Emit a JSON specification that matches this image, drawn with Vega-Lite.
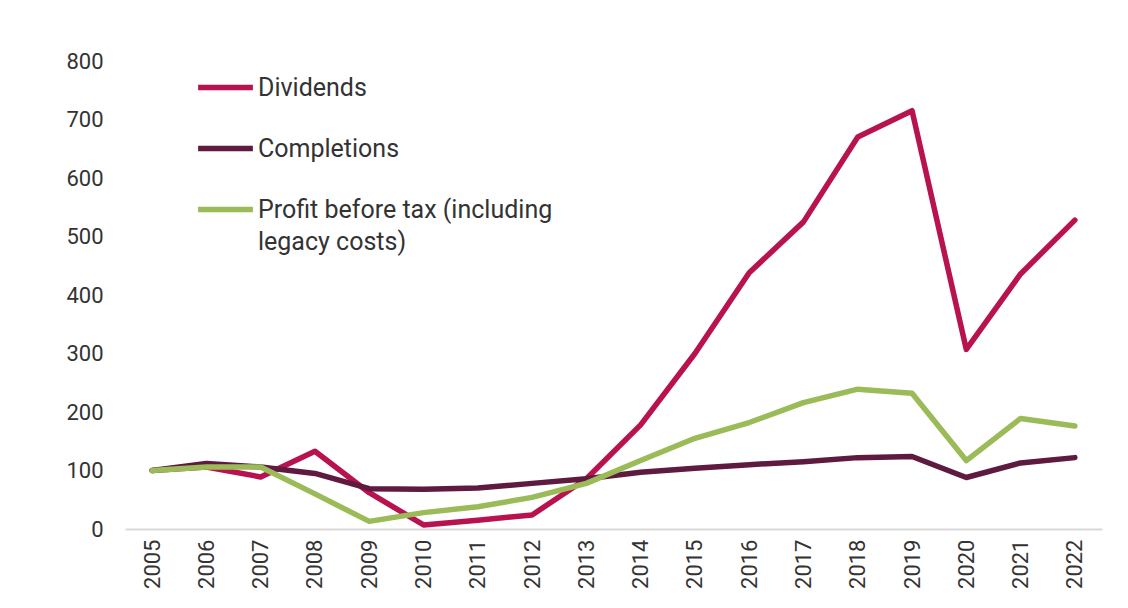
{
  "$schema": "https://vega.github.io/schema/vega-lite/v6.json",
  "autosize": "none",
  "width": 977,
  "height": 468,
  "padding": {"left": 125, "top": 61, "right": 26, "bottom": 79},
  "background": "white",
  "config": {
    "view": {"stroke": null},
    "font": "Roboto",
    "axis": {"labelFont": "Roboto", "labelColor": "#333333", "labelFontSize": 22, "ticks": false, "grid": false, "title": null}
  },
  "data": {
    "values": [
      {"year": "2005", "series": "Dividends", "value": 100},
      {"year": "2006", "series": "Dividends", "value": 106},
      {"year": "2007", "series": "Dividends", "value": 89},
      {"year": "2008", "series": "Dividends", "value": 133},
      {"year": "2009", "series": "Dividends", "value": 62},
      {"year": "2010", "series": "Dividends", "value": 7},
      {"year": "2011", "series": "Dividends", "value": 15},
      {"year": "2012", "series": "Dividends", "value": 24},
      {"year": "2013", "series": "Dividends", "value": 86},
      {"year": "2014", "series": "Dividends", "value": 178},
      {"year": "2015", "series": "Dividends", "value": 300},
      {"year": "2016", "series": "Dividends", "value": 438},
      {"year": "2017", "series": "Dividends", "value": 525},
      {"year": "2018", "series": "Dividends", "value": 670},
      {"year": "2019", "series": "Dividends", "value": 715},
      {"year": "2020", "series": "Dividends", "value": 307},
      {"year": "2021", "series": "Dividends", "value": 436},
      {"year": "2022", "series": "Dividends", "value": 528},
      {"year": "2005", "series": "Completions", "value": 100},
      {"year": "2006", "series": "Completions", "value": 112},
      {"year": "2007", "series": "Completions", "value": 106},
      {"year": "2008", "series": "Completions", "value": 95},
      {"year": "2009", "series": "Completions", "value": 69},
      {"year": "2010", "series": "Completions", "value": 68},
      {"year": "2011", "series": "Completions", "value": 70},
      {"year": "2012", "series": "Completions", "value": 78},
      {"year": "2013", "series": "Completions", "value": 86},
      {"year": "2014", "series": "Completions", "value": 97},
      {"year": "2015", "series": "Completions", "value": 104},
      {"year": "2016", "series": "Completions", "value": 110},
      {"year": "2017", "series": "Completions", "value": 115},
      {"year": "2018", "series": "Completions", "value": 122},
      {"year": "2019", "series": "Completions", "value": 124},
      {"year": "2020", "series": "Completions", "value": 88},
      {"year": "2021", "series": "Completions", "value": 113},
      {"year": "2022", "series": "Completions", "value": 122},
      {"year": "2005", "series": "Profit before tax (including legacy costs)", "value": 100},
      {"year": "2006", "series": "Profit before tax (including legacy costs)", "value": 106},
      {"year": "2007", "series": "Profit before tax (including legacy costs)", "value": 106},
      {"year": "2008", "series": "Profit before tax (including legacy costs)", "value": 60},
      {"year": "2009", "series": "Profit before tax (including legacy costs)", "value": 13},
      {"year": "2010", "series": "Profit before tax (including legacy costs)", "value": 28},
      {"year": "2011", "series": "Profit before tax (including legacy costs)", "value": 38},
      {"year": "2012", "series": "Profit before tax (including legacy costs)", "value": 54},
      {"year": "2013", "series": "Profit before tax (including legacy costs)", "value": 78},
      {"year": "2014", "series": "Profit before tax (including legacy costs)", "value": 117},
      {"year": "2015", "series": "Profit before tax (including legacy costs)", "value": 155},
      {"year": "2016", "series": "Profit before tax (including legacy costs)", "value": 182},
      {"year": "2017", "series": "Profit before tax (including legacy costs)", "value": 216},
      {"year": "2018", "series": "Profit before tax (including legacy costs)", "value": 239},
      {"year": "2019", "series": "Profit before tax (including legacy costs)", "value": 232},
      {"year": "2020", "series": "Profit before tax (including legacy costs)", "value": 117},
      {"year": "2021", "series": "Profit before tax (including legacy costs)", "value": 189},
      {"year": "2022", "series": "Profit before tax (including legacy costs)", "value": 176}
    ]
  },
  "mark": {"type": "line", "strokeWidth": 5.5, "strokeCap": "round", "strokeJoin": "round"},
  "encoding": {
    "x": {
      "field": "year", "type": "ordinal",
      "scale": {"type": "point", "padding": 0.5},
      "axis": {"labelAngle": -90, "labelPadding": 10, "domain": true, "domainColor": "#d9d9d9", "domainWidth": 2, "labelAlign": "right", "labelBaseline": "middle"}
    },
    "y": {
      "field": "value", "type": "quantitative",
      "scale": {"domain": [0, 800], "nice": false},
      "axis": {"values": [0, 100, 200, 300, 400, 500, 600, 700, 800], "domain": false, "labelPadding": 22}
    },
    "color": {
      "field": "series", "type": "nominal",
      "scale": {
        "domain": ["Dividends", "Completions", "Profit before tax (including legacy costs)"],
        "range": ["#b8124f", "#5f1a3f", "#9bbb59"]
      },
      "legend": {
        "orient": "none", "legendX": 70, "legendY": -4,
        "title": null,
        "symbolType": "stroke", "symbolSize": 3000, "symbolStrokeWidth": 5.5,
        "labelFont": "Roboto", "labelFontSize": 25, "labelColor": "#333333",
        "labelLimit": 500, "labelOffset": 2, "rowPadding": 17,
        "labelExpr": "datum.label == 'Profit before tax (including legacy costs)' ? ['Profit before tax (including', 'legacy costs)'] : datum.label",
        "encode": {"labels": {"update": {"lineHeight": {"value": 32}}}}
      }
    }
  }
}
